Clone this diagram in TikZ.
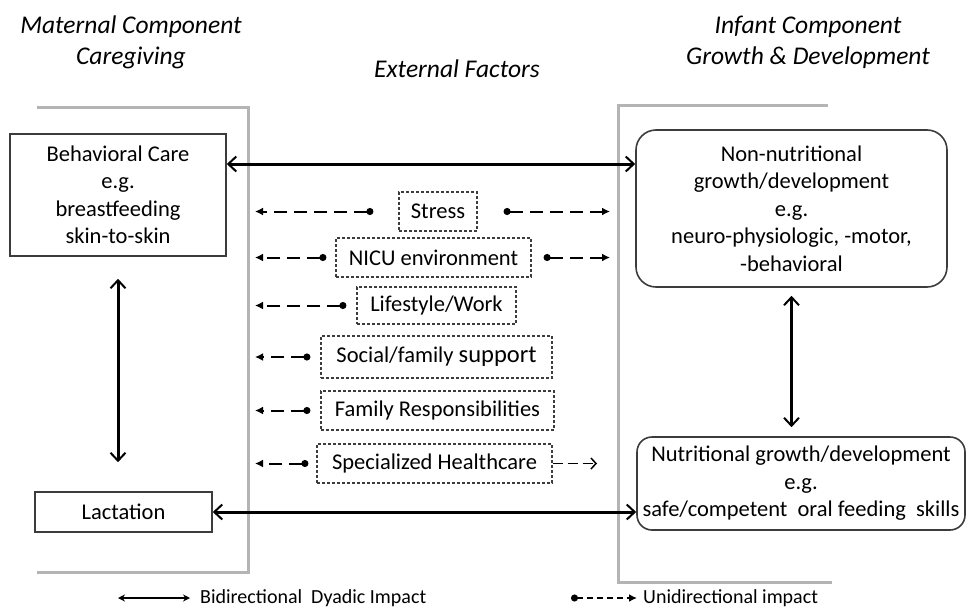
\documentclass[tikz,border=0pt]{standalone}
\usepackage{fontspec}
\setmainfont{Carlito}
\usepackage{tikz}
\usetikzlibrary{arrows.meta,calc}
\definecolor{brkGray}{HTML}{B4B4B4}
\definecolor{boxGray}{HTML}{3C3C3C}
\tikzset{
  headnode/.style={align=center, inner sep=0pt,
                   font=\fontsize{25.5}{31}\selectfont\itshape},
  carebox/.style={draw=boxGray, line width=1.6pt, align=center, inner sep=0pt,
                  font=\fontsize{22.5}{27.5}\selectfont},
  factorbox/.style={draw=boxGray, densely dashed, line width=1.2pt, inner sep=0pt,
                    minimum height=39pt, font=\fontsize{22.5}{26}\selectfont},
  legnode/.style={inner sep=0pt, font=\fontsize{20}{24}\selectfont},
  bracket/.style={brkGray, line width=3pt},
  biarrow/.style={{Straight Barb[length=8pt,width=15pt,line width=2pt]}-{Straight Barb[length=8pt,width=15pt,line width=2pt]},
                  line width=3pt},
  legbiarrow/.style={{Stealth[length=7pt,width=7pt]}-{Stealth[length=7pt,width=7pt]},
                     line width=1.6pt},
  uniarrow/.style={{Circle[length=7pt]}-{Latex[length=8pt,width=8pt]},
                   line width=2pt, dash pattern=on 13pt off 7pt},
  openarrow/.style={-{Straight Barb[length=5pt,width=11pt,line width=1.5pt]},
                    line width=1.8pt, dash pattern=on 10pt off 5pt},
}
\begin{document}
\begin{tikzpicture}[x=1pt, y=-1pt]
\useasboundingbox (0,0) rectangle (967,608);
% Free ends of the dashed arrows
\coordinate (tipL) at (255,0);
\coordinate (tipR) at (610,0);
\coordinate (tipH) at (597,0);

%% Headings
\node[headnode] (matHead) at (131,42.5) {Maternal Component\\Caregiving};
\node[headnode] (extHead) at (457,69)   {External Factors};
\node[headnode] (infHead) at (808,42.5) {Infant Component\\Growth \& Development};

%% Brackets
\draw[bracket] (37,107) -- (248,107) -- (248,572) -- (37,572);
\draw[bracket] (828,105) -- (618,105) -- (618,582) -- (832,582);

%% Maternal component
\node[carebox, minimum width=216pt, minimum height=122pt] (care) at (118,195)
  {Behavioral Care\\e.g.\\breastfeeding\\skin-to-skin};
\node[carebox, minimum width=177pt, minimum height=40pt] (lact) at (123.5,512) {Lactation};

%% Infant component
\node[carebox, rounded corners=20pt, minimum width=311pt, minimum height=157pt] (nonnut) at (791.5,208.5)
  {Non-nutritional\\growth/development\\e.g.\\neuro-physiologic, -motor,\\-behavioral};
\node[carebox, rounded corners=15pt, minimum width=328pt, minimum height=93pt] (nutr) at (801,483.5)
  {Nutritional growth/development\\e.g.\\safe/competent\ \ oral feeding\ \ skills};

%% External factors
\node[factorbox, minimum width=78pt]  (stress) at (438,211.5) {Stress};
\node[factorbox, minimum width=195pt] (nicu)   at (433.5,257.5) {NICU environment};
\node[factorbox, minimum width=159pt, minimum height=37pt] (life) at (436.5,305.5) {Lifestyle/Work};
\node[factorbox, minimum width=231pt, minimum height=42pt] (social) at (436.5,357)
  {Social/family {\fontsize{24.5}{26}\selectfont support}};
\node[factorbox, minimum width=233pt] (family) at (437.5,410.5) {Family Responsibilities};
\node[factorbox, minimum width=235pt] (health) at (434.5,463.5) {Specialized Healthcare};

%% Bidirectional dyadic impact
\draw[biarrow] ([yshift=31pt]care.east) -- ([yshift=31pt]care.east -| nonnut.west);
\draw[biarrow] (lact.east) -- (lact.east -| nutr.west);
\draw[biarrow, shorten <=22pt, shorten >=29pt] (care.south) -- (care.south |- lact.north);
\draw[biarrow, shorten <=8pt, shorten >=9pt] (nonnut.south) -- (nonnut.south |- nutr.north);

%% Unidirectional impact
\foreach \f/\g in {stress/25pt, nicu/9pt, life/10pt, social/10pt, family/10pt, health/8pt} {
  \draw[uniarrow, shorten <=\g] (\f.west) -- (\f.west -| tipL);
}
\draw[uniarrow, shorten <=26pt] (stress.east) -- (stress.east -| tipR);
\draw[uniarrow, shorten <=12pt] (nicu.east) -- (nicu.east -| tipR);
\draw[openarrow] (health.east) -- (health.east -| tipH);

%% Legend
\coordinate (legBi) at (118,598);
\node[legnode, anchor=west] (legBiTxt) at (200,598) {Bidirectional\ \ Dyadic Impact};
\draw[legbiarrow] (legBi) -- ([xshift=-10pt]legBiTxt.west);
\coordinate (legUni) at (571,598);
\node[legnode, anchor=west] (legUniTxt) at (643,598) {Unidirectional impact};
\draw[uniarrow, line width=1.6pt, dash pattern=on 6pt off 4pt] (legUni) -- ([xshift=-6pt]legUniTxt.west);
\end{tikzpicture}
\end{document}
